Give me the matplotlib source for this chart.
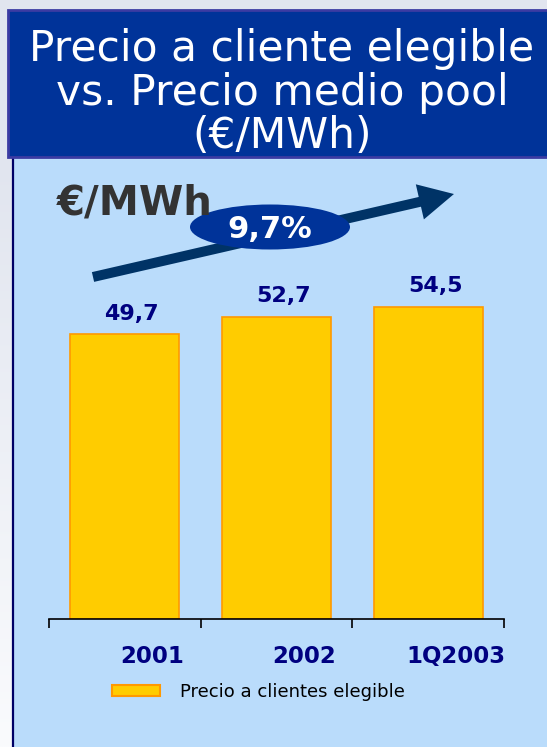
import numpy as np
import matplotlib
matplotlib.use('Agg')
from matplotlib import pyplot as plt
from matplotlib.patches import Rectangle, Ellipse, FancyArrow
from matplotlib.lines import Line2D

# ── Data ──────────────────────────────────────────────────────────────────────
categories = ['2001', '2002', '1Q2003']
precio     = [49.7, 52.7, 54.5]
labels     = ['49,7', '52,7', '54,5']
series     = 'Precio a clientes elegible'
growth     = '9,7%'

# ── Colours ───────────────────────────────────────────────────────────────────
BG      = '#e1e5ef'
PANEL   = '#badcfb'
TITLEBX = '#003399'
NAVY    = '#000080'
BAR     = '#ffcc00'
BAR_EDG = '#ff9900'
ARROW   = '#003366'

W, H = 547, 747
fig = plt.figure(figsize=(W / 100, H / 100), dpi=100, facecolor=BG)

# background / decoration layer in pixel coordinates
bg = fig.add_axes([0, 0, 1, 1], zorder=0)
bg.set_xlim(0, W)
bg.set_ylim(H, 0)
bg.axis('off')
grad = np.linspace(0, 1, 256).reshape(-1, 1)
bg.imshow(grad, extent=(0, 12, H, 157),
          cmap=matplotlib.colors.LinearSegmentedColormap.from_list('g', [BG, '#fafbfd']),
          aspect='auto', zorder=0)
bg.add_patch(Rectangle((12, 157), W - 12, H - 157, facecolor=PANEL, edgecolor='none', zorder=1))
bg.add_line(Line2D([13, 13], [157, H], color='#000066', lw=1.6, zorder=2))
bg.add_patch(Rectangle((8, 10), W + 10, 147, facecolor=TITLEBX, edgecolor='#3b3ba3', lw=2, zorder=3))

for txt, yb in [('Precio a cliente elegible', 61), ('vs. Precio medio pool', 105), ('(€/MWh)', 148)]:
    bg.text(282, yb, txt, color='white', fontsize=30.5, ha='center', va='baseline', zorder=4)

# ── Bar chart ─────────────────────────────────────────────────────────────────
ax = fig.add_axes([49 / W, (H - 619) / H, 455 / W, 458 / H], zorder=1)
ax.patch.set_alpha(0)
x = np.arange(len(categories)) + 0.5
ax.bar(x, precio, width=0.72, color=BAR, edgecolor=BAR_EDG, linewidth=1.2)
ax.set_xlim(0, 3)
ax.set_ylim(0, 80)
for s in ['top', 'right', 'left']:
    ax.spines[s].set_visible(False)
ax.spines['bottom'].set_linewidth(1.2)
ax.set_yticks([])
ax.set_xticks([0, 1, 2, 3])
ax.set_xticklabels([])
ax.tick_params(axis='x', direction='out', length=6.5, width=1.2)

for xi, v, lab, cat in zip(x, precio, labels, categories):
    ax.annotate(lab, (xi, v), xytext=(5, 15), textcoords='offset points',
                ha='center', va='center', fontsize=16, fontweight='bold', color=NAVY)
    ax.annotate(cat, (xi, 0), xytext=(20, -27), textcoords='offset points',
                ha='center', va='center', fontsize=16.5, fontweight='bold', color=NAVY)

handle = Rectangle((0, 0), 1, 1, facecolor=BAR, edgecolor=BAR_EDG, linewidth=1.5)
fig.legend([handle], [series], loc='center left', bbox_to_anchor=(112 / W, 1 - 692 / H),
           frameon=False, fontsize=13, handlelength=2.65, handleheight=0.6,
           handletextpad=1.1, borderpad=0, borderaxespad=0)

# ── Overlay: unit label, growth arrow and bubble ──────────────────────────────
ov = fig.add_axes([0, 0, 1, 1], zorder=2)
ov.set_xlim(0, W)
ov.set_ylim(H, 0)
ov.axis('off')
ov.text(57, 215, '€/MWh', fontsize=29, fontweight='bold', color='#333333', ha='left', va='baseline')
ov.add_patch(FancyArrow(93, 277, 361 - 35 * 361 / 370, -83 + 35 * 83 / 370, width=10, head_width=36,
                        head_length=35, length_includes_head=False, color=ARROW, lw=0))
ov.add_patch(Ellipse((270, 227), 160, 45, facecolor=TITLEBX, edgecolor='none'))
ov.text(270, 229, growth, fontsize=22, fontweight='bold', color='white', ha='center', va='center')

fig.savefig('out.png', dpi=100, facecolor=BG)
